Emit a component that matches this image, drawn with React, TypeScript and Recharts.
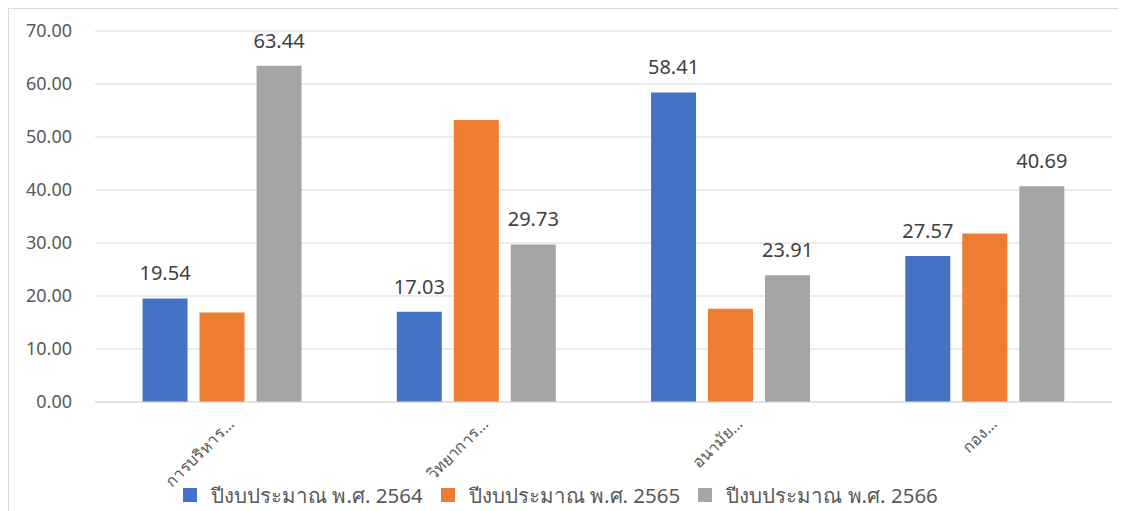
import React from "react";
import { BarChart, Bar, XAxis, YAxis, CartesianGrid, LabelList, Legend } from "recharts";

const categories = ["การบริหาร...", "วิทยาการ...", "อนามัย...", "กอง..."];
const series2564 = [19.54, 17.03, 58.41, 27.57];
const series2565 = [16.9, 53.2, 17.6, 31.8];
const series2566 = [63.44, 29.73, 23.91, 40.69];
const yTicks = [0, 10, 20, 30, 40, 50, 60, 70];
const seriesNames = ["ปีงบประมาณ พ.ศ. 2564", "ปีงบประมาณ พ.ศ. 2565", "ปีงบประมาณ พ.ศ. 2566"];
const colors = ["#4472C4", "#ED7D31", "#A5A5A5"];

const data = categories.map((c, i) => ({
  name: c,
  a: series2564[i],
  b: series2565[i],
  c: series2566[i],
}));

const FONT = "'Noto Sans', 'Open Sans', sans-serif";

const XTick = (props: any) => {
  const { x, y, payload } = props;
  const ax = x + 13;
  const ay = y + 15;
  return (
    <text
      x={ax}
      y={ay}
      transform={`rotate(-45, ${ax}, ${ay})`}
      textAnchor="end"
      fontSize={16}
      fill="#595959"
      fontFamily={FONT}
    >
      {payload.value}
    </text>
  );
};

const LegendContent = () => (
  <div style={{ display: "flex", justifyContent: "center", gap: 18, fontFamily: FONT, fontSize: 20.5, color: "#595959", lineHeight: "26px" }}>
    {seriesNames.map((n, i) => (
      <div key={n} style={{ display: "flex", alignItems: "center" }}>
        <span style={{ display: "inline-block", width: 14, height: 14, background: colors[i], marginRight: 14 }} />
        <span>{n}</span>
      </div>
    ))}
  </div>
);

export default function App() {
  return (
    <div style={{ width: 1110, height: 510, border: "1px solid #d9d9d9", boxSizing: "content-box" }}>
      <BarChart
        width={1110}
        height={510}
        data={data}
        margin={{ top: 22, right: 7, left: 0, bottom: 0 }}
        barCategoryGap="18.7%"
        barGap={12}
      >
        <CartesianGrid vertical={false} stroke="#d9d9d9" />
        <XAxis
          dataKey="name"
          tick={<XTick />}
          tickLine={false}
          axisLine={{ stroke: "#d9d9d9" }}
          height={91}
          interval={0}
        />
        <YAxis
          domain={[0, 70]}
          ticks={yTicks}
          width={86}
          tickLine={false}
          axisLine={false}
          tickMargin={17}
          tickFormatter={(v: number) => v.toFixed(2)}
          tick={{ fontSize: 18, fill: "#595959", fontFamily: FONT }}
        />
        <Legend verticalAlign="bottom" content={<LegendContent />} wrapperStyle={{ bottom: 11 }} />
        <Bar dataKey="a" fill={colors[0]} isAnimationActive={false}>
          <LabelList dataKey="a" position="top" offset={18} formatter={(v: number) => v.toFixed(2)} fill="#404040" fontSize={20} fontFamily={FONT} />
        </Bar>
        <Bar dataKey="b" fill={colors[1]} isAnimationActive={false} />
        <Bar dataKey="c" fill={colors[2]} isAnimationActive={false}>
          <LabelList dataKey="c" position="top" offset={18} formatter={(v: number) => v.toFixed(2)} fill="#404040" fontSize={20} fontFamily={FONT} />
        </Bar>
      </BarChart>
    </div>
  );
}
